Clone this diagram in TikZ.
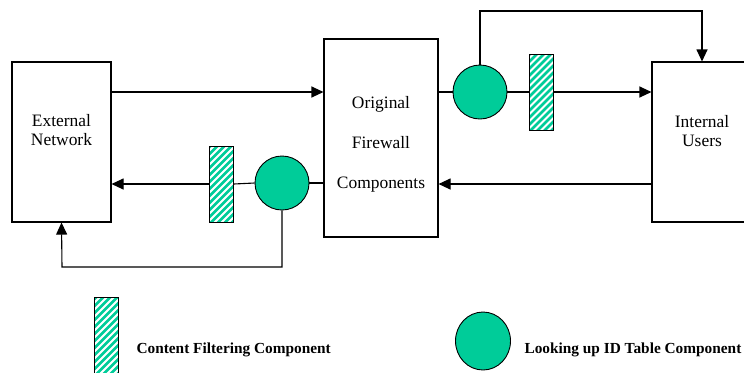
\documentclass[tikz,border=0pt]{standalone}
\usepackage{fontspec}
\setmainfont{Liberation Serif}
\usetikzlibrary{arrows.meta,positioning,shapes.geometric}
\definecolor{idgreen}{RGB}{0,204,153}

\begin{document}
\begin{tikzpicture}[
      x=1bp,
      y=-1bp,
      >={Triangle[length=12bp,width=11bp]},
      flow/.style={->, line width=1.1bp},
      link/.style={line width=1.1bp},
      block/.style={draw, line width=1.1bp, inner sep=0pt},
      boxtext/.style={font=\fontsize{17.5}{20}\selectfont, align=center},
      lookup/.style={circle, draw, fill=idgreen, line width=0.9bp,
        minimum size=54bp, inner sep=0pt},
      filter/.style={draw, line width=0.9bp, minimum width=24bp,
        minimum height=76bp, inner sep=0pt,
        path picture={
          \foreach \k in {-12,...,12}
            \draw[idgreen, line width=2.6bp]
              ([xshift=\k*7bp-50bp, yshift=-50bp]path picture bounding box.center)
              -- ++(100bp,100bp);
        }},
      legend/.style={font=\bfseries\fontsize{15.4}{17}\selectfont, anchor=west}
    ]
    \useasboundingbox (0,0) rectangle (744,372);

    % boxes
    \node[block, minimum width=99bp, minimum height=160bp] (ext) at (61.5,142) {};
    \node[boxtext] (extlbl) at (61.5,130) {External\\Network};
    \node[block, minimum width=114bp, minimum height=198bp] (fw) at (381,138) {};
    \node[boxtext, font=\fontsize{17.5}{40}\selectfont] (fwlbl) at (381,144)
      {Original\\Firewall\\Components};
    \node[block, minimum width=100bp, minimum height=160bp] (int) at (702,142) {};
    \node[boxtext] (intlbl) at (702,131) {Internal\\Users};

    % components on the paths
    \node[lookup] (lkout) at (480,92) {};
    \node[filter] (fltout) at (541,92) {};
    \node[lookup] (lkin) at (282,183) {};
    \node[filter] (fltin) at (221.5,184) {};

    \coordinate (topturn) at (702,11);
    \coordinate (botturn) at (62,267);

    % outgoing traffic
    \draw[flow] ([yshift=50bp]ext.east) -- ([yshift=50bp]ext.east -| fw.west);
    \draw[link] (fw.east |- lkout) -- (lkout.west);
    \draw[link] (lkout.east) -- (fltout.west);
    \draw[flow] (fltout.east) -- (fltout.east -| int.west);
    \draw[flow] (lkout.north) |- (topturn) -- (int.north);

    % incoming traffic
    \draw[flow] (int.west |- fltin) -- (fw.east |- fltin);
    \draw[link] (fw.west |- lkin) -- (lkin.east);
    \draw[link] (lkin.west) -- (fltin.east);
    \draw[flow] (fltin.west) -- (fltin.west -| ext.east);
    \draw[flow] (lkin.south) |- (botturn) -- (ext.south);

    % legend
    \node[filter, minimum height=78bp] (keyflt) at (106.5,336) {};
    \node[legend] (keyflttxt) at (133,350) {Content Filtering Component};
    \node[ellipse, draw, fill=idgreen, line width=0.9bp, minimum width=55bp,
      minimum height=58bp, inner sep=0pt] (keylk) at (483,341) {};
    \node[legend] (keylktxt) at (521,350) {Looking up ID Table Component};
  \end{tikzpicture}
\end{document}
